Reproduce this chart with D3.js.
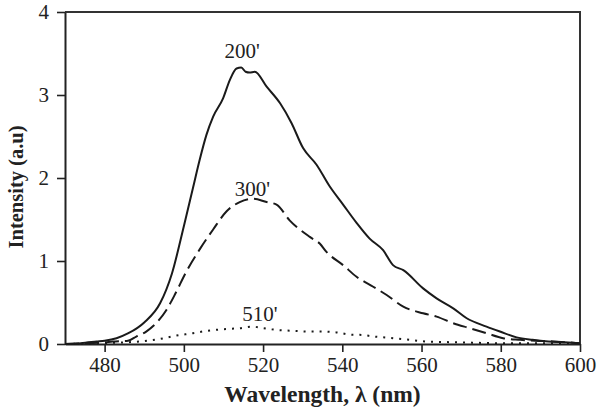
<!DOCTYPE html>
<html>
<head>
<meta charset="utf-8">
<script src="https://cdn.jsdelivr.net/npm/d3@7"></script>
<style>
  body { margin: 0; background: #fff; }
  svg text { font-family: "Liberation Serif", "Times New Roman", serif; fill: #222; }
</style>
</head>
<body>
<div id="chart"></div>
<script>
// wavelength (nm) / intensity (a.u)
const wl200 = [470, 474, 478, 480, 483, 486, 490, 494, 497, 500, 502.3, 504, 505.7, 507.4, 509.9, 511.6, 513.3, 514.5, 515.6, 516.6, 517.9, 520.9, 524.3, 527.2, 530.1, 533.5, 536.8, 540.2, 543.6, 546.9, 550.3, 552.8, 555.4, 560.4, 563.8, 568, 571.4, 576.4, 579.8, 584, 588, 592, 596, 600];
const int200 = [0, 0.01, 0.03, 0.04, 0.07, 0.13, 0.26, 0.49, 0.85, 1.42, 1.88, 2.22, 2.52, 2.74, 2.96, 3.18, 3.32, 3.33, 3.28, 3.27, 3.28, 3.10, 2.90, 2.66, 2.36, 2.16, 1.90, 1.68, 1.46, 1.27, 1.13, 0.95, 0.89, 0.67, 0.55, 0.43, 0.31, 0.21, 0.15, 0.08, 0.05, 0.03, 0.02, 0.01];

const wl300 = [470, 476, 480, 482, 485.9, 488, 490.5, 493, 495.6, 498, 500.6, 504, 507.4, 510.8, 514.1, 517.5, 520.9, 523.4, 526.7, 531.8, 534.3, 536, 540.2, 543.6, 547.8, 551.2, 555.4, 560.4, 563.8, 568, 572.2, 576.4, 580.6, 584.9, 593.3, 600];
const int300 = [0, 0.01, 0.02, 0.03, 0.04, 0.09, 0.15, 0.25, 0.41, 0.62, 0.87, 1.14, 1.38, 1.60, 1.71, 1.75, 1.71, 1.68, 1.49, 1.29, 1.21, 1.11, 0.95, 0.81, 0.69, 0.59, 0.45, 0.37, 0.33, 0.25, 0.19, 0.13, 0.07, 0.05, 0.03, 0.01];

const wl510 = [470, 480, 485, 488.9, 493.9, 498, 502.3, 506, 510.8, 514, 517.3, 520, 523.4, 527, 531.8, 535, 538.5, 542.7, 544.4, 548, 552.8, 557, 561.3, 569.7, 580, 590, 600];
const int510 = [0, 0.01, 0.02, 0.03, 0.06, 0.10, 0.13, 0.16, 0.18, 0.19, 0.21, 0.19, 0.17, 0.16, 0.15, 0.15, 0.14, 0.11, 0.11, 0.09, 0.07, 0.05, 0.03, 0.02, 0.01, 0.01, 0.01];

const xTicks = [480, 500, 520, 540, 560, 580, 600];
const yTicks = [0, 1, 2, 3, 4];

// curve annotations
const labelText = ["200'", "300'", "510'"];
const labelX = [514.7, 517.3, 519.2];
const labelY = [3.44, 1.78, 0.28];

const width = 598, height = 417;
const margin = { left: 65, right: 18, top: 12, bottom: 73 };

const svg = d3.select('#chart').append('svg')
    .attr('width', width)
    .attr('height', height);

const x = d3.scaleLinear()
    .domain([470, 600])
    .range([margin.left, width - margin.right]);

const y = d3.scaleLinear()
    .domain([0, 4])
    .range([height - margin.bottom, margin.top]);

// frame (top + right)
svg.append('path')
    .attr('d', `M${x(470)},${y(4)}H${x(600)}V${y(0)}`)
    .attr('fill', 'none')
    .attr('stroke', '#333')
    .attr('stroke-width', 2);

let gx = svg.append('g')
    .attr('transform', `translate(0,${y(0)})`)
    .call(d3.axisBottom(x).tickValues(xTicks).tickSize(8).tickPadding(5).tickSizeOuter(0));

let gy = svg.append('g')
    .attr('transform', `translate(${x(470)},0)`)
    .call(d3.axisLeft(y).tickValues(yTicks).tickFormat(d3.format('d')).tickSize(8).tickPadding(8).tickSizeOuter(0));

[gx, gy].forEach((g) => {
    g.select('.domain').attr('stroke', '#222').attr('stroke-width', 2);
    g.selectAll('.tick line').attr('stroke', '#222').attr('stroke-width', 1.6);
    g.selectAll('.tick text')
        .attr('font-size', 21)
        .attr('font-family', '"Liberation Serif", serif')
        .attr('fill', '#333');
});

const series = [
    { wl: wl200, val: int200, dash: null },
    { wl: wl300, val: int300, dash: '14,6' },
    { wl: wl510, val: int510, dash: '2,6' }
];

const line = d3.line()
    .x((d) => x(d[0]))
    .y((d) => y(d[1]))
    .curve(d3.curveMonotoneX);

series.forEach((s) => {
    svg.append('path')
        .datum(d3.zip(s.wl, s.val))
        .attr('fill', 'none')
        .attr('stroke', '#1a1a1a')
        .attr('stroke-width', 2)
        .attr('stroke-dasharray', s.dash)
        .attr('d', line);
});

labelText.forEach((t, i) => {
    svg.append('text')
        .attr('x', x(labelX[i]))
        .attr('y', y(labelY[i]))
        .attr('text-anchor', 'middle')
        .attr('font-size', 21)
        .attr('fill', '#333')
        .text(t);
});

// axis titles
svg.append('text')
    .attr('x', (x(470) + x(600)) / 2)
    .attr('y', 402)
    .attr('text-anchor', 'middle')
    .attr('font-size', 23.5)
    .attr('font-weight', 'bold')
    .text('Wavelength, λ (nm)');

svg.append('text')
    .attr('transform', `translate(23,${187}) rotate(-90)`)
    .attr('text-anchor', 'middle')
    .attr('font-size', 20.5)
    .attr('font-weight', 'bold')
    .text('Intensity (a.u)');
</script>
</body>
</html>
